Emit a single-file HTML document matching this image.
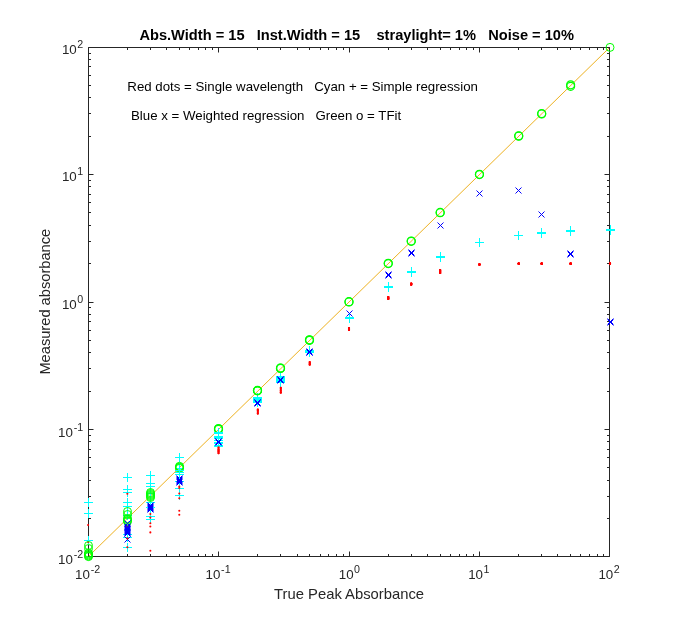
<!DOCTYPE html><html><head><meta charset="utf-8"><title>plot</title><style>html,body{margin:0;padding:0;background:#fff}body{width:674px;height:626px;overflow:hidden}</style></head><body><svg width="674" height="626" viewBox="0 0 674 626" style="display:block;will-change:transform">
<rect width="674" height="626" fill="#fff"/>
<line x1="88.10" y1="556.82" x2="609.90" y2="47.22" stroke="#EDB120" stroke-width="1"/>
<path d="M88.5 47.5H609.5V556.5H88.5ZM88.5 556.5v-5M88.5 47.5v5M88.5 556.5h5M609.5 556.5h-5M127.5 556.5v-2.5M127.5 47.5v2.5M88.5 518.5h2.5M609.5 518.5h-2.5M150.5 556.5v-2.5M150.5 47.5v2.5M88.5 496.5h2.5M609.5 496.5h-2.5M166.5 556.5v-2.5M166.5 47.5v2.5M88.5 480.5h2.5M609.5 480.5h-2.5M179.5 556.5v-2.5M179.5 47.5v2.5M88.5 467.5h2.5M609.5 467.5h-2.5M189.5 556.5v-2.5M189.5 47.5v2.5M88.5 457.5h2.5M609.5 457.5h-2.5M198.5 556.5v-2.5M198.5 47.5v2.5M88.5 449.5h2.5M609.5 449.5h-2.5M205.5 556.5v-2.5M205.5 47.5v2.5M88.5 441.5h2.5M609.5 441.5h-2.5M212.5 556.5v-2.5M212.5 47.5v2.5M88.5 435.5h2.5M609.5 435.5h-2.5M218.5 556.5v-5M218.5 47.5v5M88.5 429.5h5M609.5 429.5h-5M257.5 556.5v-2.5M257.5 47.5v2.5M88.5 391.5h2.5M609.5 391.5h-2.5M280.5 556.5v-2.5M280.5 47.5v2.5M88.5 368.5h2.5M609.5 368.5h-2.5M297.5 556.5v-2.5M297.5 47.5v2.5M88.5 352.5h2.5M609.5 352.5h-2.5M309.5 556.5v-2.5M309.5 47.5v2.5M88.5 340.5h2.5M609.5 340.5h-2.5M320.5 556.5v-2.5M320.5 47.5v2.5M88.5 330.5h2.5M609.5 330.5h-2.5M328.5 556.5v-2.5M328.5 47.5v2.5M88.5 321.5h2.5M609.5 321.5h-2.5M336.5 556.5v-2.5M336.5 47.5v2.5M88.5 314.5h2.5M609.5 314.5h-2.5M343.5 556.5v-2.5M343.5 47.5v2.5M88.5 307.5h2.5M609.5 307.5h-2.5M349.5 556.5v-5M349.5 47.5v5M88.5 302.5h5M609.5 302.5h-5M388.5 556.5v-2.5M388.5 47.5v2.5M88.5 263.5h2.5M609.5 263.5h-2.5M411.5 556.5v-2.5M411.5 47.5v2.5M88.5 241.5h2.5M609.5 241.5h-2.5M427.5 556.5v-2.5M427.5 47.5v2.5M88.5 225.5h2.5M609.5 225.5h-2.5M440.5 556.5v-2.5M440.5 47.5v2.5M88.5 212.5h2.5M609.5 212.5h-2.5M450.5 556.5v-2.5M450.5 47.5v2.5M88.5 202.5h2.5M609.5 202.5h-2.5M459.5 556.5v-2.5M459.5 47.5v2.5M88.5 194.5h2.5M609.5 194.5h-2.5M466.5 556.5v-2.5M466.5 47.5v2.5M88.5 186.5h2.5M609.5 186.5h-2.5M473.5 556.5v-2.5M473.5 47.5v2.5M88.5 180.5h2.5M609.5 180.5h-2.5M479.5 556.5v-5M479.5 47.5v5M88.5 174.5h5M609.5 174.5h-5M518.5 556.5v-2.5M518.5 47.5v2.5M88.5 136.5h2.5M609.5 136.5h-2.5M541.5 556.5v-2.5M541.5 47.5v2.5M88.5 113.5h2.5M609.5 113.5h-2.5M557.5 556.5v-2.5M557.5 47.5v2.5M88.5 97.5h2.5M609.5 97.5h-2.5M570.5 556.5v-2.5M570.5 47.5v2.5M88.5 85.5h2.5M609.5 85.5h-2.5M580.5 556.5v-2.5M580.5 47.5v2.5M88.5 75.5h2.5M609.5 75.5h-2.5M589.5 556.5v-2.5M589.5 47.5v2.5M88.5 66.5h2.5M609.5 66.5h-2.5M597.5 556.5v-2.5M597.5 47.5v2.5M88.5 59.5h2.5M609.5 59.5h-2.5M603.5 556.5v-2.5M603.5 47.5v2.5M88.5 53.5h2.5M609.5 53.5h-2.5M609.5 556.5v-5M609.5 47.5v5M88.5 47.5h5M609.5 47.5h-5" fill="none" stroke="#262626" stroke-width="1"/>
<path d="M84.0 502.5h9M88.5 498.0v9M84.0 513.5h9M88.5 509.0v9M84.0 540.5h9M88.5 536.0v9M123.0 477.5h9M127.5 473.0v9M123.0 489.5h9M127.5 485.0v9M123.0 492.5h9M127.5 488.0v9M123.0 502.5h9M127.5 498.0v9M123.0 506.5h9M127.5 502.0v9M123.0 515.5h9M127.5 511.0v9M123.0 534.5h9M127.5 530.0v9M123.0 537.5h9M127.5 533.0v9M123.0 547.5h9M127.5 543.0v9M146.0 475.5h9M150.5 471.0v9M146.0 483.5h9M150.5 479.0v9M146.0 486.5h9M150.5 482.0v9M146.0 493.5h9M150.5 489.0v9M146.0 502.5h9M150.5 498.0v9M146.0 507.5h9M150.5 503.0v9M146.0 516.5h9M150.5 512.0v9M146.0 519.5h9M150.5 515.0v9M175.0 457.5h9M179.5 453.0v9M175.0 468.5h9M179.5 464.0v9M175.0 481.5h9M179.5 477.0v9M175.0 488.5h9M179.5 484.0v9M175.0 495.5h9M179.5 491.0v9M214.0 436.5h9M218.5 432.0v9M214.0 437.5h9M218.5 433.0v9M214.0 438.5h9M218.5 434.0v9M214.0 440.5h9M218.5 436.0v9M214.0 442.5h9M218.5 438.0v9M214.0 443.5h9M218.5 439.0v9M214.0 445.5h9M218.5 441.0v9M214.0 446.5h9M218.5 442.0v9M253.0 397.5h9M257.5 393.0v9M253.0 398.5h9M257.5 394.0v9M253.0 399.5h9M257.5 395.0v9M253.0 400.5h9M257.5 396.0v9M253.0 401.5h9M257.5 397.0v9M253.0 402.5h9M257.5 398.0v9M276.0 376.5h9M280.5 372.0v9M276.0 377.5h9M280.5 373.0v9M276.0 378.5h9M280.5 374.0v9M276.0 379.5h9M280.5 375.0v9M276.0 380.5h9M280.5 376.0v9M276.0 381.5h9M280.5 377.0v9M276.0 382.5h9M280.5 378.0v9M305.0 350.5h9M309.5 346.0v9M305.0 351.5h9M309.5 347.0v9M305.0 352.5h9M309.5 348.0v9M345.0 317.5h9M349.5 313.0v9M345.0 318.5h9M349.5 314.0v9M384.0 286.5h9M388.5 282.0v9M384.0 287.5h9M388.5 283.0v9M407.0 271.5h9M411.5 267.0v9M407.0 272.5h9M411.5 268.0v9M436.0 256.5h9M440.5 252.0v9M436.0 257.5h9M440.5 253.0v9M475.0 242.5h9M479.5 238.0v9M514.0 235.5h9M518.5 231.0v9M537.0 232.5h9M541.5 228.0v9M537.0 233.5h9M541.5 229.0v9M566.0 230.5h9M570.5 226.0v9M566.0 231.5h9M570.5 227.0v9M606.0 229.5h9M610.5 225.0v9M606.0 230.5h9M610.5 226.0v9" fill="none" stroke="#00ffff" stroke-width="1"/>
<path d="M124.5 524.5l6.0 6.0M124.5 530.5l6.0 -6.0M124.5 525.5l6.0 6.0M124.5 531.5l6.0 -6.0M124.5 526.5l6.0 6.0M124.5 532.5l6.0 -6.0M124.5 527.5l6.0 6.0M124.5 533.5l6.0 -6.0M124.5 528.5l6.0 6.0M124.5 534.5l6.0 -6.0M124.5 529.5l6.0 6.0M124.5 535.5l6.0 -6.0M124.5 530.5l6.0 6.0M124.5 536.5l6.0 -6.0M124.5 536.5l6.0 6.0M124.5 542.5l6.0 -6.0M147.5 502.5l6.0 6.0M147.5 508.5l6.0 -6.0M147.5 503.5l6.0 6.0M147.5 509.5l6.0 -6.0M147.5 504.5l6.0 6.0M147.5 510.5l6.0 -6.0M147.5 505.5l6.0 6.0M147.5 511.5l6.0 -6.0M147.5 506.5l6.0 6.0M147.5 512.5l6.0 -6.0M176.5 475.5l6.0 6.0M176.5 481.5l6.0 -6.0M176.5 476.5l6.0 6.0M176.5 482.5l6.0 -6.0M176.5 477.5l6.0 6.0M176.5 483.5l6.0 -6.0M176.5 478.5l6.0 6.0M176.5 484.5l6.0 -6.0M176.5 479.5l6.0 6.0M176.5 485.5l6.0 -6.0M215.5 438.5l6.0 6.0M215.5 444.5l6.0 -6.0M215.5 439.5l6.0 6.0M215.5 445.5l6.0 -6.0M215.5 438.5l6.0 6.0M215.5 444.5l6.0 -6.0M254.5 399.5l6.0 6.0M254.5 405.5l6.0 -6.0M254.5 399.5l6.0 6.0M254.5 405.5l6.0 -6.0M254.5 400.5l6.0 6.0M254.5 406.5l6.0 -6.0M277.5 376.5l6.0 6.0M277.5 382.5l6.0 -6.0M277.5 376.5l6.0 6.0M277.5 382.5l6.0 -6.0M277.5 377.5l6.0 6.0M277.5 383.5l6.0 -6.0M306.5 348.5l6.0 6.0M306.5 354.5l6.0 -6.0M306.5 349.5l6.0 6.0M306.5 355.5l6.0 -6.0M306.5 349.5l6.0 6.0M306.5 355.5l6.0 -6.0M346.5 310.5l6.0 6.0M346.5 316.5l6.0 -6.0M385.5 271.5l6.0 6.0M385.5 277.5l6.0 -6.0M385.5 272.5l6.0 6.0M385.5 278.5l6.0 -6.0M408.5 249.5l6.0 6.0M408.5 255.5l6.0 -6.0M408.5 250.5l6.0 6.0M408.5 256.5l6.0 -6.0M437.5 222.5l6.0 6.0M437.5 228.5l6.0 -6.0M476.5 190.5l6.0 6.0M476.5 196.5l6.0 -6.0M515.5 187.5l6.0 6.0M515.5 193.5l6.0 -6.0M538.5 211.5l6.0 6.0M538.5 217.5l6.0 -6.0M567.5 250.5l6.0 6.0M567.5 256.5l6.0 -6.0M567.5 251.5l6.0 6.0M567.5 257.5l6.0 -6.0M607.5 318.5l6.0 6.0M607.5 324.5l6.0 -6.0M607.5 319.5l6.0 6.0M607.5 325.5l6.0 -6.0" fill="none" stroke="#0000ff" stroke-width="1"/>
<g fill="#f00"><circle cx="88.10" cy="525.00" r="1.05"/><circle cx="88.10" cy="542.10" r="1.05"/><circle cx="127.37" cy="493.80" r="1.05"/><circle cx="127.37" cy="526.20" r="1.05"/><circle cx="127.37" cy="538.40" r="1.05"/><circle cx="127.37" cy="547.20" r="1.05"/><circle cx="150.34" cy="514.00" r="1.05"/><circle cx="150.34" cy="517.60" r="1.05"/><circle cx="150.34" cy="523.30" r="1.05"/><circle cx="150.34" cy="526.50" r="1.05"/><circle cx="150.34" cy="532.40" r="1.05"/><circle cx="150.34" cy="550.80" r="1.05"/><circle cx="179.28" cy="486.50" r="1.05"/><circle cx="179.28" cy="488.00" r="1.05"/><circle cx="179.28" cy="493.50" r="1.05"/><circle cx="179.28" cy="498.20" r="1.05"/><circle cx="179.28" cy="510.80" r="1.05"/><circle cx="179.28" cy="514.80" r="1.05"/><circle cx="218.55" cy="447.60" r="1.05"/><circle cx="218.55" cy="447.60" r="1.05"/><circle cx="218.55" cy="449.00" r="1.05"/><circle cx="218.55" cy="449.00" r="1.05"/><circle cx="218.55" cy="450.00" r="1.05"/><circle cx="218.55" cy="450.00" r="1.05"/><circle cx="218.55" cy="451.00" r="1.05"/><circle cx="218.55" cy="451.00" r="1.05"/><circle cx="218.55" cy="452.00" r="1.05"/><circle cx="218.55" cy="452.00" r="1.05"/><circle cx="218.55" cy="453.30" r="1.05"/><circle cx="218.55" cy="453.30" r="1.05"/><circle cx="257.82" cy="409.50" r="1.05"/><circle cx="257.82" cy="409.50" r="1.05"/><circle cx="257.82" cy="410.50" r="1.05"/><circle cx="257.82" cy="410.50" r="1.05"/><circle cx="257.82" cy="412.00" r="1.05"/><circle cx="257.82" cy="412.00" r="1.05"/><circle cx="257.82" cy="413.60" r="1.05"/><circle cx="257.82" cy="413.60" r="1.05"/><circle cx="280.79" cy="387.80" r="1.05"/><circle cx="280.79" cy="387.80" r="1.05"/><circle cx="280.79" cy="389.00" r="1.05"/><circle cx="280.79" cy="389.00" r="1.05"/><circle cx="280.79" cy="390.50" r="1.05"/><circle cx="280.79" cy="390.50" r="1.05"/><circle cx="280.79" cy="392.00" r="1.05"/><circle cx="280.79" cy="392.00" r="1.05"/><circle cx="280.79" cy="392.80" r="1.05"/><circle cx="280.79" cy="392.80" r="1.05"/><circle cx="309.73" cy="362.00" r="1.05"/><circle cx="309.73" cy="362.00" r="1.05"/><circle cx="309.73" cy="363.00" r="1.05"/><circle cx="309.73" cy="363.00" r="1.05"/><circle cx="309.73" cy="364.00" r="1.05"/><circle cx="309.73" cy="364.00" r="1.05"/><circle cx="309.73" cy="364.70" r="1.05"/><circle cx="309.73" cy="364.70" r="1.05"/><circle cx="349.00" cy="328.10" r="1.05"/><circle cx="349.00" cy="328.10" r="1.05"/><circle cx="349.00" cy="328.10" r="1.05"/><circle cx="349.00" cy="328.10" r="1.05"/><circle cx="349.00" cy="329.00" r="1.05"/><circle cx="349.00" cy="329.00" r="1.05"/><circle cx="349.00" cy="329.00" r="1.05"/><circle cx="349.00" cy="329.00" r="1.05"/><circle cx="349.00" cy="329.90" r="1.05"/><circle cx="349.00" cy="329.90" r="1.05"/><circle cx="349.00" cy="329.90" r="1.05"/><circle cx="349.00" cy="329.90" r="1.05"/><circle cx="388.27" cy="297.10" r="1.05"/><circle cx="388.27" cy="297.10" r="1.05"/><circle cx="388.27" cy="297.10" r="1.05"/><circle cx="388.27" cy="297.10" r="1.05"/><circle cx="388.27" cy="298.00" r="1.05"/><circle cx="388.27" cy="298.00" r="1.05"/><circle cx="388.27" cy="298.00" r="1.05"/><circle cx="388.27" cy="298.00" r="1.05"/><circle cx="388.27" cy="298.90" r="1.05"/><circle cx="388.27" cy="298.90" r="1.05"/><circle cx="388.27" cy="298.90" r="1.05"/><circle cx="388.27" cy="298.90" r="1.05"/><circle cx="411.24" cy="283.50" r="1.05"/><circle cx="411.24" cy="283.50" r="1.05"/><circle cx="411.24" cy="283.50" r="1.05"/><circle cx="411.24" cy="283.50" r="1.05"/><circle cx="411.24" cy="284.10" r="1.05"/><circle cx="411.24" cy="284.10" r="1.05"/><circle cx="411.24" cy="284.10" r="1.05"/><circle cx="411.24" cy="284.10" r="1.05"/><circle cx="411.24" cy="284.70" r="1.05"/><circle cx="411.24" cy="284.70" r="1.05"/><circle cx="411.24" cy="284.70" r="1.05"/><circle cx="411.24" cy="284.70" r="1.05"/><circle cx="440.18" cy="270.10" r="1.05"/><circle cx="440.18" cy="270.10" r="1.05"/><circle cx="440.18" cy="270.10" r="1.05"/><circle cx="440.18" cy="270.10" r="1.05"/><circle cx="440.18" cy="271.00" r="1.05"/><circle cx="440.18" cy="271.00" r="1.05"/><circle cx="440.18" cy="271.00" r="1.05"/><circle cx="440.18" cy="271.00" r="1.05"/><circle cx="440.18" cy="272.00" r="1.05"/><circle cx="440.18" cy="272.00" r="1.05"/><circle cx="440.18" cy="272.00" r="1.05"/><circle cx="440.18" cy="272.00" r="1.05"/><circle cx="440.18" cy="273.00" r="1.05"/><circle cx="440.18" cy="273.00" r="1.05"/><circle cx="440.18" cy="273.00" r="1.05"/><circle cx="440.18" cy="273.00" r="1.05"/><circle cx="479.45" cy="264.45" r="1.05"/><circle cx="479.45" cy="264.45" r="1.05"/><circle cx="479.45" cy="264.45" r="1.05"/><circle cx="479.45" cy="264.45" r="1.05"/><circle cx="479.45" cy="264.50" r="1.05"/><circle cx="479.45" cy="264.50" r="1.05"/><circle cx="479.45" cy="264.50" r="1.05"/><circle cx="479.45" cy="264.50" r="1.05"/><circle cx="479.45" cy="264.55" r="1.05"/><circle cx="479.45" cy="264.55" r="1.05"/><circle cx="479.45" cy="264.55" r="1.05"/><circle cx="479.45" cy="264.55" r="1.05"/><circle cx="518.72" cy="263.60" r="1.05"/><circle cx="518.72" cy="263.60" r="1.05"/><circle cx="518.72" cy="263.60" r="1.05"/><circle cx="518.72" cy="263.60" r="1.05"/><circle cx="518.72" cy="263.65" r="1.05"/><circle cx="518.72" cy="263.65" r="1.05"/><circle cx="518.72" cy="263.65" r="1.05"/><circle cx="518.72" cy="263.65" r="1.05"/><circle cx="518.72" cy="263.70" r="1.05"/><circle cx="518.72" cy="263.70" r="1.05"/><circle cx="518.72" cy="263.70" r="1.05"/><circle cx="518.72" cy="263.70" r="1.05"/><circle cx="541.69" cy="263.60" r="1.05"/><circle cx="541.69" cy="263.60" r="1.05"/><circle cx="541.69" cy="263.60" r="1.05"/><circle cx="541.69" cy="263.60" r="1.05"/><circle cx="541.69" cy="263.65" r="1.05"/><circle cx="541.69" cy="263.65" r="1.05"/><circle cx="541.69" cy="263.65" r="1.05"/><circle cx="541.69" cy="263.65" r="1.05"/><circle cx="541.69" cy="263.70" r="1.05"/><circle cx="541.69" cy="263.70" r="1.05"/><circle cx="541.69" cy="263.70" r="1.05"/><circle cx="541.69" cy="263.70" r="1.05"/><circle cx="570.63" cy="263.60" r="1.05"/><circle cx="570.63" cy="263.60" r="1.05"/><circle cx="570.63" cy="263.60" r="1.05"/><circle cx="570.63" cy="263.60" r="1.05"/><circle cx="570.63" cy="263.65" r="1.05"/><circle cx="570.63" cy="263.65" r="1.05"/><circle cx="570.63" cy="263.65" r="1.05"/><circle cx="570.63" cy="263.65" r="1.05"/><circle cx="570.63" cy="263.70" r="1.05"/><circle cx="570.63" cy="263.70" r="1.05"/><circle cx="570.63" cy="263.70" r="1.05"/><circle cx="570.63" cy="263.70" r="1.05"/><circle cx="610.00" cy="263.60" r="1.05"/><circle cx="610.00" cy="263.60" r="1.05"/><circle cx="610.00" cy="263.60" r="1.05"/><circle cx="610.00" cy="263.60" r="1.05"/><circle cx="610.00" cy="263.65" r="1.05"/><circle cx="610.00" cy="263.65" r="1.05"/><circle cx="610.00" cy="263.65" r="1.05"/><circle cx="610.00" cy="263.65" r="1.05"/><circle cx="610.00" cy="263.70" r="1.05"/><circle cx="610.00" cy="263.70" r="1.05"/><circle cx="610.00" cy="263.70" r="1.05"/><circle cx="610.00" cy="263.70" r="1.05"/></g>
<g fill="none" stroke="#00ff00" stroke-width="1"><circle cx="88.50" cy="545.50" r="4"/><circle cx="88.50" cy="548.50" r="4"/><circle cx="88.50" cy="553.00" r="4"/><circle cx="88.50" cy="554.00" r="4"/><circle cx="88.50" cy="555.00" r="4"/><circle cx="88.50" cy="556.00" r="4"/><circle cx="88.50" cy="556.60" r="4"/><circle cx="127.50" cy="511.50" r="4"/><circle cx="127.50" cy="514.50" r="4"/><circle cx="127.50" cy="518.50" r="4"/><circle cx="127.50" cy="519.50" r="4"/><circle cx="127.50" cy="520.50" r="4"/><circle cx="127.50" cy="521.50" r="4"/><circle cx="150.50" cy="492.50" r="4"/><circle cx="150.50" cy="493.50" r="4"/><circle cx="150.50" cy="494.50" r="4"/><circle cx="150.50" cy="495.50" r="4"/><circle cx="150.50" cy="496.50" r="4"/><circle cx="150.50" cy="497.50" r="4"/><circle cx="179.50" cy="466.30" r="4"/><circle cx="179.50" cy="467.00" r="4"/><circle cx="179.50" cy="467.60" r="4"/><circle cx="179.50" cy="468.40" r="4"/><circle cx="218.50" cy="428.60" r="4" stroke-width="1.2"/><circle cx="218.50" cy="429.00" r="4" stroke-width="1.2"/><circle cx="218.50" cy="429.30" r="4" stroke-width="1.2"/><circle cx="257.50" cy="390.40" r="4" stroke-width="1.2"/><circle cx="257.50" cy="390.80" r="4" stroke-width="1.2"/><circle cx="257.50" cy="390.60" r="4" stroke-width="1.2"/><circle cx="280.50" cy="368.00" r="4" stroke-width="1.2"/><circle cx="280.50" cy="368.50" r="4" stroke-width="1.2"/><circle cx="280.50" cy="368.20" r="4" stroke-width="1.2"/><circle cx="309.50" cy="339.80" r="4" stroke-width="1.2"/><circle cx="309.50" cy="340.30" r="4" stroke-width="1.2"/><circle cx="309.50" cy="340.10" r="4" stroke-width="1.2"/><circle cx="349.00" cy="301.70" r="4" stroke-width="1.2"/><circle cx="349.00" cy="301.90" r="4" stroke-width="1.2"/><circle cx="388.27" cy="263.30" r="4" stroke-width="1.2"/><circle cx="388.27" cy="263.60" r="4" stroke-width="1.2"/><circle cx="411.24" cy="241.00" r="4" stroke-width="1.2"/><circle cx="411.24" cy="241.30" r="4" stroke-width="1.2"/><circle cx="440.18" cy="212.40" r="4" stroke-width="1.2"/><circle cx="440.18" cy="212.70" r="4" stroke-width="1.2"/><circle cx="479.45" cy="174.30" r="4" stroke-width="1.2"/><circle cx="479.45" cy="174.60" r="4" stroke-width="1.2"/><circle cx="518.72" cy="135.80" r="4" stroke-width="1.2"/><circle cx="518.72" cy="136.20" r="4" stroke-width="1.2"/><circle cx="541.69" cy="113.60" r="4" stroke-width="1.2"/><circle cx="541.69" cy="114.00" r="4" stroke-width="1.2"/><circle cx="570.63" cy="84.80" r="4" stroke-width="1.2"/><circle cx="570.63" cy="86.30" r="4" stroke-width="1.2"/><circle cx="610.00" cy="47.40" r="4"/></g>
<path d="M175.0 470.5h9M179.5 466.0v9M175.0 472.5h9M179.5 468.0v9M175.0 474.5h9M179.5 470.0v9M214.0 432.5h9M218.5 428.0v9M214.0 433.5h9M218.5 429.0v9" fill="none" stroke="#00ffff" stroke-width="1"/>
<path d="M124.5 520.5l6.0 6.0M124.5 526.5l6.0 -6.0M124.5 523.5l6.0 6.0M124.5 529.5l6.0 -6.0" fill="none" stroke="#0000ff" stroke-width="1"/>
<g font-family="Liberation Sans, Arial, Helvetica, sans-serif" fill="#262626">
<text x="87.60" y="579.00" font-size="13.33" text-anchor="middle">10<tspan font-size="10.67" dx="0.8" dy="-6.2">-2</tspan></text>
<text x="83.20" y="564.00" font-size="13.33" text-anchor="end">10<tspan font-size="10.67" dx="0.8" dy="-6.2">-2</tspan></text>
<text x="218.05" y="579.00" font-size="13.33" text-anchor="middle">10<tspan font-size="10.67" dx="0.8" dy="-6.2">-1</tspan></text>
<text x="83.20" y="437.00" font-size="13.33" text-anchor="end">10<tspan font-size="10.67" dx="0.8" dy="-6.2">-1</tspan></text>
<text x="349.40" y="579.00" font-size="13.33" text-anchor="middle">10<tspan font-size="10.67" dx="0.5" dy="-6.2">0</tspan></text>
<text x="83.20" y="309.00" font-size="13.33" text-anchor="end">10<tspan font-size="10.67" dx="0.5" dy="-6.2">0</tspan></text>
<text x="478.85" y="579.00" font-size="13.33" text-anchor="middle">10<tspan font-size="10.67" dx="0.5" dy="-6.2">1</tspan></text>
<text x="83.20" y="181.00" font-size="13.33" text-anchor="end">10<tspan font-size="10.67" dx="0.5" dy="-6.2">1</tspan></text>
<text x="609.10" y="579.00" font-size="13.33" text-anchor="middle">10<tspan font-size="10.67" dx="0.5" dy="-6.2">2</tspan></text>
<text x="83.20" y="54.00" font-size="13.33" text-anchor="end">10<tspan font-size="10.67" dx="0.5" dy="-6.2">2</tspan></text>
<text x="349.1" y="599" font-size="14.8" text-anchor="middle">True Peak Absorbance</text>
<text transform="translate(50,301.7) rotate(-90)" font-size="14.67" text-anchor="middle">Measured absorbance</text>
<text x="127.3" y="91" font-size="13.27" fill="#000" xml:space="preserve">Red dots = Single wavelength   Cyan + = Simple regression</text>
<text x="131" y="120" font-size="13.27" fill="#000" xml:space="preserve">Blue x = Weighted regression   Green o = TFit</text>
<text x="356.7" y="40" font-size="14.63" font-weight="bold" fill="#000" text-anchor="middle" xml:space="preserve">Abs.Width = 15   Inst.Width = 15    straylight= 1%   Noise = 10%</text>
</g>
</svg></body></html>
